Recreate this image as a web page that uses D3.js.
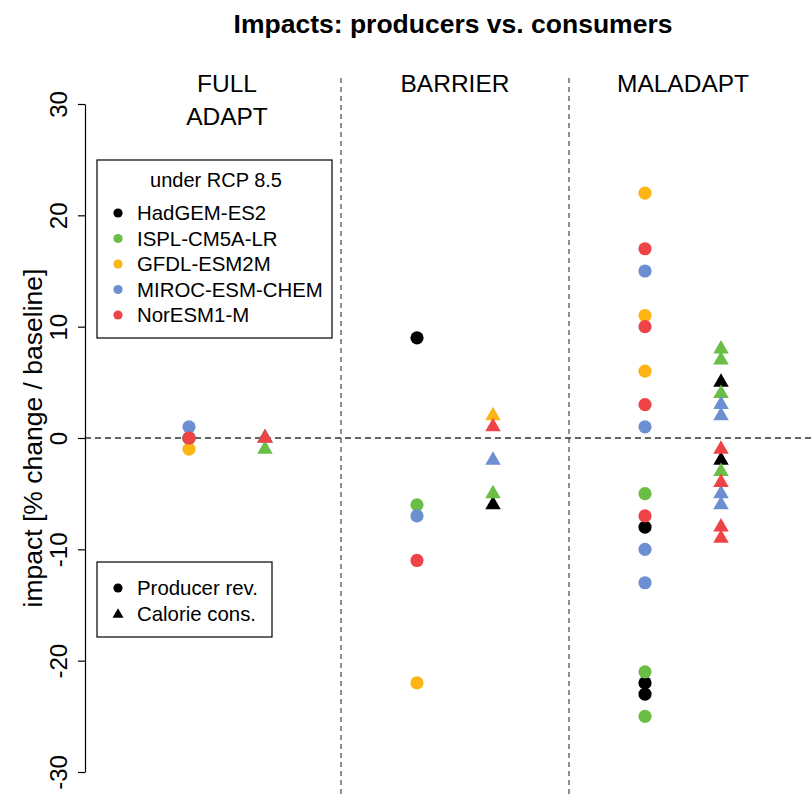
<!DOCTYPE html>
<html>
<head>
<meta charset="utf-8">
<script src="https://cdn.jsdelivr.net/npm/d3@7"></script>
<style>
  html, body { margin: 0; padding: 0; background: #fff; }
  svg { display: block; font-family: "Liberation Sans", Arial, sans-serif; }
</style>
</head>
<body>
<svg id="chart" width="812" height="798"></svg>
<script>
// ---------------- DATA ----------------
const panelLabels = [["FULL", "ADAPT"], ["BARRIER"], ["MALADAPT"]];
const models = ["HadGEM-ES2", "ISPL-CM5A-LR", "GFDL-ESM2M", "MIROC-ESM-CHEM", "NorESM1-M"];
const modelColors = ["#000000", "#6ABD45", "#FDB515", "#6B8FD0", "#EE4347"];
const yTicks = [-30, -20, -10, 0, 10, 20, 30];
const typeLabels = ["Producer rev.", "Calorie cons."];

// values per model (order as in `models`), % change vs baseline
const fullAdaptProducer = [[0], [0], [-1], [1], [0]];
const fullAdaptCalorie  = [[0], [-1], [0], [0], [0]];
const barrierProducer   = [[9], [-6], [-22], [-7], [-11]];
const barrierCalorie    = [[-6], [-5], [2], [-2], [1]];
const maladaptProducer  = [[-8, -22, -23], [-5, -21, -25], [22, 11, 6], [15, 1, -10, -13], [17, 10, 3, -7]];
const maladaptCalorie   = [[5, -2], [8, 7, 4, -3], [], [3, 2, -5, -6], [-1, -4, -8, -9]];

const producerByPanel = [fullAdaptProducer, barrierProducer, maladaptProducer];
const calorieByPanel  = [fullAdaptCalorie, barrierCalorie, maladaptCalorie];

// ---------------- BUILD POINTS ----------------
const points = [];
[producerByPanel, calorieByPanel].forEach((byPanel, type) => {
  byPanel.forEach((perModel, p) => {
    perModel.forEach((vals, m) => {
      vals.forEach(v => points.push({ panel: p, type: type, model: m, value: v }));
    });
  });
});
// draw order: by model so later models overlay earlier ones
points.sort((a, b) => a.model - b.model);

// ---------------- SCALES ----------------
const svg = d3.select("#chart");
const x = d3.scaleLinear().domain([0.5, 3.5]).range([113, 797]);
const y = d3.scaleLinear().domain([-30, 30]).range([772, 104]);
const typeOffset = [-38 / 228, 38 / 228];
const font = "'Liberation Sans', Arial, sans-serif";

// title
svg.append("text")
  .attr("x", 453).attr("y", 33)
  .attr("text-anchor", "middle")
  .style("font-size", "26.5px").style("font-weight", "bold")
  .text("Impacts: producers vs. consumers");

// dividers
[1.5, 2.5].forEach(d => {
  svg.append("line")
    .attr("x1", x(d)).attr("x2", x(d))
    .attr("y1", 78).attr("y2", 798)
    .attr("stroke", "#555").attr("stroke-width", 1.3)
    .attr("stroke-dasharray", "5,4");
});

// zero line
svg.append("line")
  .attr("x1", 85).attr("x2", 812)
  .attr("y1", y(0)).attr("y2", y(0))
  .attr("stroke", "#333").attr("stroke-width", 1.3)
  .attr("stroke-dasharray", "6,4");

// panel labels
panelLabels.forEach((lines, i) => {
  lines.forEach((ln, j) => {
    svg.append("text")
      .attr("x", x(i + 1)).attr("y", 92 + j * 33)
      .attr("text-anchor", "middle")
      .style("font-size", "24.5px")
      .text(ln);
  });
});

// y axis
const yAxis = d3.axisLeft(y).tickValues(yTicks).tickSize(7).tickSizeOuter(0).tickFormat(d => String(d));
const ga = svg.append("g").attr("transform", "translate(85,0)").call(yAxis);
ga.select(".domain").attr("stroke", "#000").attr("stroke-width", 1.2);
ga.selectAll(".tick line").attr("stroke", "#000").attr("stroke-width", 1.2);
ga.selectAll(".tick text")
  .attr("x", 0).attr("dy", null)
  .attr("transform", "translate(-18,0) rotate(-90)")
  .attr("text-anchor", "middle")
  .attr("fill", "#000")
  .style("font-size", "24px").style("font-family", font);

// y label
svg.append("text")
  .attr("transform", `translate(42,${y(0)}) rotate(-90)`)
  .attr("text-anchor", "middle")
  .style("font-size", "26.5px")
  .text("impact [% change / baseline]");

// marks
function triPath(cx, cy, w, h) {
  // R-style triangle centred on centroid
  return `M${cx},${cy - h * 2 / 3}L${cx + w / 2},${cy + h / 3}L${cx - w / 2},${cy + h / 3}Z`;
}
const g = svg.append("g");
points.forEach(d => {
  const cx = x(d.panel + 1 + typeOffset[d.type]);
  const cy = y(d.value);
  if (d.type === 0) {
    g.append("circle").attr("cx", cx).attr("cy", cy).attr("r", 6.6)
      .attr("fill", modelColors[d.model]);
  } else {
    g.append("path").attr("d", triPath(cx, cy, 15.5, 13.5))
      .attr("fill", modelColors[d.model]);
  }
});

// legend 1: models
const l1 = svg.append("g");
l1.append("rect").attr("x", 97).attr("y", 160).attr("width", 235).attr("height", 178)
  .attr("fill", "#fff").attr("stroke", "#000").attr("stroke-width", 1.2);
l1.append("text").attr("x", 216).attr("y", 187).attr("text-anchor", "middle")
  .style("font-size", "20px").text("under RCP 8.5");
models.forEach((m, i) => {
  const cy = 213 + i * 25.5;
  l1.append("circle").attr("cx", 118).attr("cy", cy).attr("r", 4.6).attr("fill", modelColors[i]);
  l1.append("text").attr("x", 137).attr("y", cy).attr("dy", "0.36em")
    .style("font-size", "20.4px").text(m);
});

// legend 2: types
const l2 = svg.append("g");
l2.append("rect").attr("x", 97).attr("y", 562).attr("width", 175).attr("height", 75)
  .attr("fill", "#fff").attr("stroke", "#000").attr("stroke-width", 1.2);
typeLabels.forEach((t, i) => {
  const cy = 588 + i * 25.5;
  if (i === 0) {
    l2.append("circle").attr("cx", 118).attr("cy", cy).attr("r", 4.6).attr("fill", "#000");
  } else {
    l2.append("path").attr("d", triPath(118, cy + 1, 11, 9.5)).attr("fill", "#000");
  }
  l2.append("text").attr("x", 137).attr("y", cy).attr("dy", "0.36em")
    .style("font-size", "20.4px").text(t);
});
</script>
</body>
</html>
